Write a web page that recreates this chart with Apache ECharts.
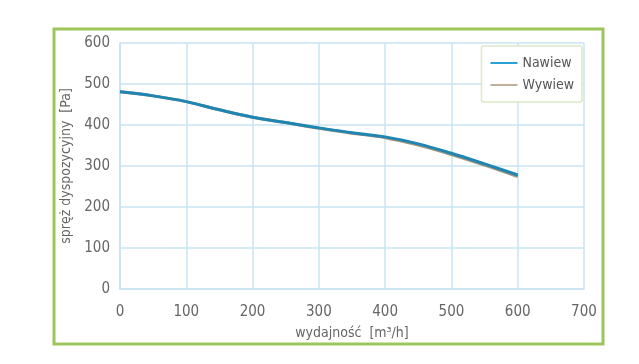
<!DOCTYPE html>
<html><head><meta charset="utf-8">
<script src="https://cdn.jsdelivr.net/npm/echarts@6/dist/echarts.min.js"></script>
<style>html,body{margin:0;padding:0;background:#fff}#c{width:639px;height:364px}</style>
</head><body><div id="c"></div>
<script>
var xValues = [0, 50, 100, 150, 200, 250, 300, 350, 400, 450, 500, 550, 600];
var nawiew = [481, 471, 457, 437, 419, 406, 393, 381, 371, 354, 331, 305, 278];
var wywiew = [481, 471, 457, 437, 419, 406, 392, 380, 369, 351, 328, 302, 274];
var seriesNames = ['Nawiew', 'Wywiew'];
var xTicks = [0, 100, 200, 300, 400, 500, 600, 700];
var yTicks = [0, 100, 200, 300, 400, 500, 600];

function pairs(xs, ys){ return xs.map(function(x,i){ return [x, ys[i]]; }); }
var font = "'DejaVu Sans Condensed', 'Liberation Sans Narrow', sans-serif";
var chart = echarts.init(document.getElementById('c'));
chart.setOption({
  animation: false,
  backgroundColor: '#fff',
  graphic: [{
    type: 'rect', shape: {x: 54, y: 29, width: 549, height: 315},
    style: {fill: 'none', stroke: '#9cc65a', lineWidth: 3}, z: -1
  }],
  grid: {left: 120, right: 55, top: 43, bottom: 75},
  legend: {
    orient: 'vertical', right: 57, top: 46,
    data: seriesNames, icon: 'rect',
    backgroundColor: '#fff', borderColor: '#dbe9c6', borderWidth: 1.5, borderRadius: 2,
    padding: [10, 8, 10, 9], itemWidth: 27, itemHeight: 2, itemGap: 8,
    textStyle: {fontFamily: font, fontSize: 14, color: '#555'}
  },
  xAxis: {
    type: 'value', min: 0, max: 700, interval: 100,
    name: 'wydajność  [m³/h]', nameLocation: 'middle', nameGap: 37,
    nameTextStyle: {fontFamily: font, fontSize: 14, color: '#666'},
    axisLine: {show: true, lineStyle: {color: '#c6e2f2', width: 1.5}},
    axisTick: {show: false},
    axisLabel: {fontFamily: font, fontSize: 15, color: '#666', margin: 16,
      formatter: function(v){ return xTicks.indexOf(v) >= 0 ? String(v) : ''; }},
    splitLine: {show: true, lineStyle: {color: '#c9e4f3', width: 1.5}}
  },
  yAxis: {
    type: 'value', min: 0, max: 600, interval: 100,
    name: 'spręż dyspozycyjny  [Pa]', nameLocation: 'middle', nameGap: 46, nameRotate: 90,
    nameTextStyle: {fontFamily: font, fontSize: 14, color: '#666'},
    axisLine: {show: true, lineStyle: {color: '#c6e2f2', width: 1.5}},
    axisTick: {show: false},
    axisLabel: {fontFamily: font, fontSize: 15, color: '#666', margin: 10,
      formatter: function(v){ return yTicks.indexOf(v) >= 0 ? String(v) : ''; }},
    splitLine: {show: true, lineStyle: {color: '#c9e4f3', width: 1.5}}
  },
  series: [
    {name: 'Wywiew', type: 'line', data: pairs(xValues, wywiew), smooth: 0.4,
     symbol: 'none', color: '#bfae98', lineStyle: {width: 3, color: '#a8947a'}, z: 2},
    {name: 'Nawiew', type: 'line', data: pairs(xValues, nawiew), smooth: 0.4,
     symbol: 'none', color: '#2aa2d6', lineStyle: {width: 3, color: '#1f86b3'}, z: 3}
  ]
});
</script></body></html>
